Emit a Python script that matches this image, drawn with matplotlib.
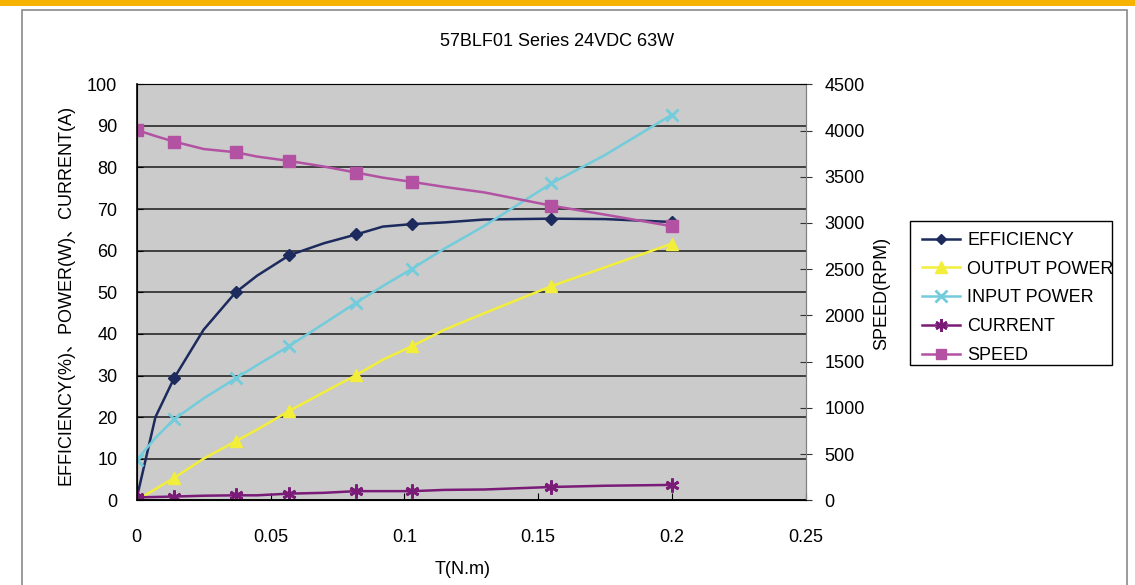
import numpy as np
import matplotlib
matplotlib.use("Agg")
import matplotlib.pyplot as plt
import matplotlib.patches as patches
from matplotlib.lines import Line2D

plt.rcParams['font.family'] = ['Liberation Sans', 'Noto Sans CJK SC', 'DejaVu Sans']

torque = [0, 0.007, 0.014, 0.025, 0.037, 0.045, 0.057, 0.07, 0.082, 0.092, 0.103, 0.115, 0.13, 0.155, 0.175, 0.2]
marker_idx = [0, 2, 4, 6, 8, 10, 13, 15]

efficiency = [0.5, 20, 29.4, 41, 50, 54, 58.9, 61.8, 63.9, 65.8, 66.4, 66.8, 67.5, 67.7, 67.6, 66.9]
output_power = [0, 2.7, 5.4, 10, 14.2, 17, 21.5, 26, 30.1, 33.8, 37.1, 41, 45, 51.5, 56, 61.7]
input_power = [9.7, 15, 19.5, 24.5, 29.3, 32.5, 37.1, 42.5, 47.5, 51.5, 55.7, 60.5, 66, 76.2, 83, 92.7]
current = [0.7, 0.8, 0.9, 1.1, 1.2, 1.2, 1.6, 1.8, 2.2, 2.2, 2.2, 2.5, 2.6, 3.2, 3.5, 3.7]
speed = [4006, 3940, 3880, 3800, 3765, 3718, 3671, 3610, 3545, 3490, 3444, 3390, 3330, 3187, 3090, 2965]

x_ticks = [0, 0.05, 0.1, 0.15, 0.2, 0.25]
x_tick_labels = ['0', '0.05', '0.1', '0.15', '0.2', '0.25']
left_ticks = list(range(0, 101, 10))
right_ticks = list(range(0, 4501, 500))

W, H = 1135, 585
fs = 13
fig = plt.figure(figsize=(W / 100, H / 100), dpi=100)

# orange strip and chart frame (behind the axes)
fig.patches.append(patches.Rectangle((0, 1 - 6 / H), 1, 6 / H, transform=fig.transFigure,
                                     facecolor='#f6b400', edgecolor='none', zorder=-2))
fig.patches.append(patches.Rectangle((22 / W, -0.01), (1127 - 22) / W, (H - 10) / H + 0.01,
                                     transform=fig.transFigure, facecolor='white',
                                     edgecolor='#8a8a8a', linewidth=1.2, zorder=-1))

ax = fig.add_axes([136.7 / W, (H - 500.3) / H, (805.7 - 136.7) / W, (500.3 - 84.3) / H])
ax.set_facecolor('#cacbca')
ax.set_xlim(0, 0.25)
ax.set_ylim(0, 100)
ax.set_xticks(x_ticks)
ax.set_xticklabels(x_tick_labels)
ax.set_yticks(left_ticks)
ax.yaxis.grid(True, color='#1a1a1a', linewidth=1.1)
ax.set_axisbelow(True)
for s in ['top', 'right']:
    ax.spines[s].set_color('#808080')
for s in ['left', 'bottom']:
    ax.spines[s].set_color('black')
    ax.spines[s].set_linewidth(1.2)
ax.tick_params(axis='x', direction='in', length=5, pad=21, labelsize=fs)
ax.tick_params(axis='y', direction='in', length=4, pad=14, labelsize=fs)

lw = 1.8
l1, = ax.plot(torque, efficiency, color='#1c2a5e', lw=lw, marker='D', ms=6,
              markevery=marker_idx, label='EFFICIENCY')
l2, = ax.plot(torque, output_power, color='#f2ee3a', lw=lw, marker='^', ms=9,
              markevery=marker_idx, label='OUTPUT POWER')
l3, = ax.plot(torque, input_power, color='#72ccdb', lw=lw, marker='x', ms=9, mew=2,
              markevery=marker_idx, label='INPUT POWER')
l4, = ax.plot(torque, current, color='#7a1b78', lw=lw, marker=(6, 2, 0), ms=10, mew=2,
              markevery=marker_idx, label='CURRENT')

ax2 = ax.twinx()
ax2.set_ylim(0, 4500)
ax2.set_yticks(right_ticks)
ax2.patch.set_visible(False)
ax2.spines['right'].set_color('#808080')
ax2.tick_params(axis='y', direction='inout', length=9, pad=9, labelsize=fs, color='#333333')
l5, = ax2.plot(torque, speed, color='#b352a3', lw=lw, marker='s', ms=8,
               markevery=marker_idx, label='SPEED')

fig.text(557 / W, 1 - 42 / H, '57BLF01 Series 24VDC 63W', ha='center', va='center', fontsize=fs)
fig.text(463 / W, 1 - 570 / H, 'T(N.m)', ha='center', va='center', fontsize=fs)
fig.text(66 / W, 1 - 295 / H, 'EFFICIENCY(%)、POWER(W)、CURRENT(A)', rotation=90,
         ha='center', va='center', fontsize=fs)
fig.text(882 / W, 1 - 293 / H, 'SPEED(RPM)', rotation=90, ha='center', va='center', fontsize=fs)

# legend: text runs past its box in the original, so the box is drawn separately
handles = [l1, l2, l3, l4, l5]
handles = [Line2D([], [], color=h.get_color(), lw=lw, marker=h.get_marker(), ms=h.get_markersize() * 0.9,
                  mew=h.get_markeredgewidth(), label=h.get_label()) for h in handles]
leg = fig.legend(handles=handles, loc='upper left', bbox_to_anchor=(922 / W, 1 - 232 / H),
                 frameon=False, fontsize=fs, borderpad=0, labelspacing=0.65,
                 handlelength=2.1, handletextpad=0.4, borderaxespad=0)
fig.patches.append(patches.Rectangle((910 / W, 1 - 365 / H), (1112 - 910) / W, (365 - 221) / H,
                                     transform=fig.transFigure, facecolor='white',
                                     edgecolor='black', linewidth=1.0, zorder=-0.5))

fig.savefig('out.png', dpi=100)
